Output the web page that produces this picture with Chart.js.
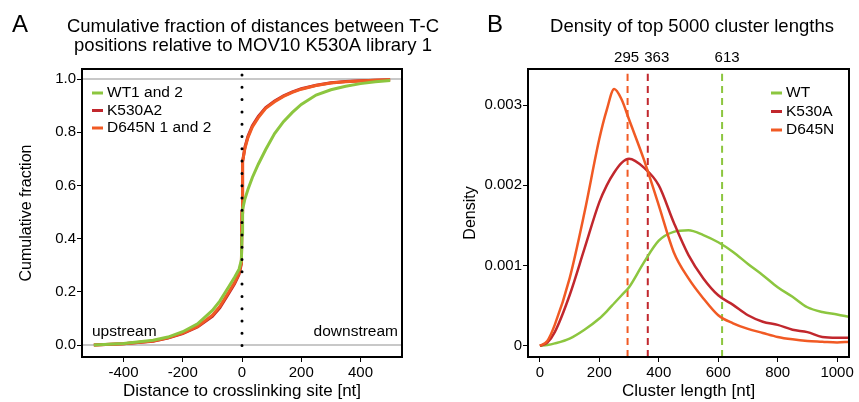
<!DOCTYPE html>
<html>
<head>
<meta charset="utf-8">
<script src="https://cdn.jsdelivr.net/npm/chart.js@4"></script>
<style>
  html, body { margin: 0; padding: 0; background: #fff; }
  #wrap { position: relative; width: 859px; height: 402px; }
  #chartA { position: absolute; left: 0; top: 0; }
  #chartB { position: absolute; left: 445px; top: 0; }
</style>
</head>
<body>
<div id="wrap">
  <canvas id="chartA" width="445" height="402"></canvas>
  <canvas id="chartB" width="414" height="402"></canvas>
</div>
<script>
// Panel A: cumulative fraction of T-C distances
var namesA = ['WT1 and 2', 'K530A2', 'D645N 1 and 2'];
var distX = [-500, -400, -300, -250, -200, -150, -100, -75, -50, -25, -10, -2, 0, 2, 10, 20, 35, 55, 80, 110, 140, 170, 200, 250, 300, 350, 400, 450, 500];
var wtCum = [0, .006, .018, .03, .05, .08, .13, .165, .21, .255, .285, .32, .42, .51, .55, .585, .63, .68, .735, .795, .84, .875, .905, .94, .96, .973, .983, .99, .995];
var k530Cum = [0, .005, .014, .026, .043, .068, .108, .14, .185, .23, .265, .305, .50, .69, .745, .785, .825, .86, .893, .918, .937, .952, .964, .977, .986, .991, .994, .996, .998];
var d645Cum = [0, .005, .015, .027, .045, .07, .112, .145, .19, .235, .27, .31, .50, .69, .74, .78, .82, .855, .89, .915, .935, .95, .962, .976, .985, .99, .993, .996, .998];
var xTicksA = [-400, -200, 0, 200, 400];
var yTicksA = [0, 0.2, 0.4, 0.6, 0.8, 1.0];
var refLinesA = [0, 1];
var siteX = 0;

// Panel B: density of cluster lengths
var namesB = ['WT', 'K530A', 'D645N'];
var lenX = [0, 25, 50, 100, 150, 200, 225, 250, 275, 300, 350, 400, 450, 500, 550, 600, 650, 700, 750, 800, 850, 900, 950, 1000, 1040];
var wtDens = [0, 0.00001, 0.00003, 0.00009, 0.0002, 0.00034, 0.00043, 0.00053, 0.00063, 0.00073, 0.00104, 0.00131, 0.00142, 0.00144, 0.00138, 0.00129, 0.00117, 0.00102, 0.00088, 0.00073, 0.00061, 0.00048, 0.00042, 0.00039, 0.00036];
var k530Dens = [0, 0.00004, 0.00017, 0.00063, 0.00121, 0.00179, 0.002, 0.00216, 0.00228, 0.00233, 0.00222, 0.002, 0.00154, 0.00113, 0.00084, 0.00063, 0.00051, 0.00038, 0.0003, 0.00026, 0.0002, 0.00017, 0.00011, 0.0001, 0.0001];
var d645Dens = [0, 0.00006, 0.00026, 0.00084, 0.00166, 0.00258, 0.00294, 0.0032, 0.00307, 0.00282, 0.00232, 0.00175, 0.00117, 0.00084, 0.00059, 0.00038, 0.00028, 0.00021, 0.00016, 0.00011, 0.00008, 0.00006, 0.00005, 0.00004, 0.00005];
var medians = [613, 363, 295];   // WT, K530A, D645N
var xTicksB = [0, 200, 400, 600, 800, 1000];
var yTicksB = [0, 0.001, 0.002, 0.003];

var green = '#8cc63f', red = '#c1272d', orange = '#f15a24';
var FONT = '"Liberation Sans", Arial, sans-serif';
Chart.defaults.font.family = FONT;
Chart.defaults.color = '#000';

// nudge median labels sideways so they don't collide
var medianLabelShift = [5, 9, -1];

function pts(xs, ys) {
  return xs.map(function (x, i) { return { x: x, y: ys[i] }; });
}

function setTicks(list) {
  return function (s) { s.ticks = list.map(function (v) { return { value: v }; }); };
}

function axis(opts) {
  return Object.assign({
    type: 'linear',
    grid: { drawOnChartArea: false, tickLength: 5, color: '#000', lineWidth: 1 },
    border: { display: false },
    ticks: { font: { size: 15 }, color: '#000', padding: 2, maxRotation: 0 }
  }, opts);
}

function text(ctx, str, x, y, size, align) {
  ctx.font = size + 'px ' + FONT;
  ctx.fillStyle = '#000';
  ctx.textAlign = align || 'center';
  ctx.textBaseline = 'middle';
  ctx.fillText(str, x, y);
}

function legend(ctx, names, colors, x, y0, dy) {
  names.forEach(function (n, i) {
    var y = y0 + i * dy;
    ctx.strokeStyle = colors[i];
    ctx.lineWidth = 3;
    ctx.setLineDash([]);
    ctx.beginPath();
    ctx.moveTo(x, y);
    ctx.lineTo(x + 11, y);
    ctx.stroke();
    text(ctx, n, x + 15, y, 15.5, 'left');
  });
}

function frame(chart) {
  var a = chart.chartArea, ctx = chart.ctx;
  ctx.save();
  ctx.strokeStyle = '#000';
  ctx.lineWidth = 2;
  ctx.setLineDash([]);
  ctx.strokeRect(a.left, a.top, a.right - a.left, a.bottom - a.top);
  ctx.restore();
}

var decorA = {
  id: 'decorA',
  beforeDatasetsDraw: function (chart) {
    var a = chart.chartArea, ctx = chart.ctx, ys = chart.scales.y;
    ctx.save();
    ctx.strokeStyle = '#c8c8c8';
    ctx.lineWidth = 2;
    refLinesA.forEach(function (v) {
      var py = ys.getPixelForValue(v);
      ctx.beginPath();
      ctx.moveTo(a.left, py);
      ctx.lineTo(a.right, py);
      ctx.stroke();
    });
    ctx.restore();
  },
  afterDatasetsDraw: function (chart) {
    var a = chart.chartArea, ctx = chart.ctx;
    var px = chart.scales.x.getPixelForValue(siteX);
    ctx.save();
    ctx.strokeStyle = '#000';
    ctx.lineWidth = 3;
    ctx.lineCap = 'round';
    ctx.setLineDash([0, 12.3]);
    ctx.beginPath();
    ctx.moveTo(px, a.top + 6);
    ctx.lineTo(px, a.bottom);
    ctx.stroke();
    ctx.restore();
  },
  afterDraw: function (chart) {
    var a = chart.chartArea, ctx = chart.ctx;
    frame(chart);
    ctx.save();
    text(ctx, 'A', 12, 25, 24, 'left');
    text(ctx, 'Cumulative fraction of distances between T-C', 253, 27, 18.5);
    text(ctx, 'positions relative to MOV10 K530A library 1', 253, 46, 18.5);
    text(ctx, 'upstream', a.left + 10, 332, 15.5, 'left');
    text(ctx, 'downstream', a.right - 4, 332, 15.5, 'right');
    legend(ctx, namesA, [green, red, orange], a.left + 10, 93, 17.5);
    ctx.restore();
  }
};

var decorB = {
  id: 'decorB',
  afterDraw: function (chart) {
    var a = chart.chartArea, ctx = chart.ctx, xs = chart.scales.x;
    frame(chart);
    ctx.save();
    text(ctx, 'B', 42, 25, 24, 'left');
    text(ctx, 'Density of top 5000 cluster lengths', 247, 27, 18.5);
    medians.forEach(function (m, i) {
      text(ctx, String(m), xs.getPixelForValue(m) + medianLabelShift[i], 58, 15);
    });
    legend(ctx, namesB, [green, red, orange], a.right - 78, 93, 18.5);
    ctx.restore();
  }
};

new Chart(document.getElementById('chartA'), {
  type: 'line',
  data: {
    datasets: [
      { label: namesA[0], data: pts(distX, wtCum), borderColor: green },
      { label: namesA[2], data: pts(distX, d645Cum), borderColor: orange },
      { label: namesA[1], data: pts(distX, k530Cum), borderColor: red }
    ]
  },
  options: {
    responsive: false,
    animation: false,
    datasets: { line: { borderWidth: 3, pointRadius: 0, tension: 0, fill: false } },
    layout: { padding: { left: 0, right: 43, top: 69, bottom: 0 } },
    plugins: { legend: { display: false }, tooltip: { enabled: false } },
    scales: {
      x: axis({
        min: -540, max: 540,
        afterBuildTicks: setTicks(xTicksA),
        afterFit: function (s) { s.height = 45; },
        ticks: { font: { size: 15 }, color: '#000', padding: 2, maxRotation: 0, callback: function (v) { return String(v); } },
        title: { display: true, text: 'Distance to crosslinking site [nt]', font: { size: 17 }, padding: 0, color: '#000' }
      }),
      y: axis({
        min: -0.045, max: 1.038,
        afterBuildTicks: setTicks(yTicksA),
        afterFit: function (s) { s.width = 82; },
        ticks: { font: { size: 15 }, color: '#000', padding: 1, callback: function (v) { return v.toFixed(1); } },
        title: { display: true, text: 'Cumulative fraction', font: { size: 16 }, padding: { top: 17, bottom: 0 }, color: '#000' }
      })
    }
  },
  plugins: [decorA]
});

var medianLines = medians.map(function (m, i) {
  return {
    data: [{ x: m, y: -0.00014 }, { x: m, y: 0.00345 }],
    borderColor: [green, red, orange][i],
    borderWidth: 2,
    borderDash: [7, 5],
    tension: 0
  };
});

new Chart(document.getElementById('chartB'), {
  type: 'line',
  data: {
    datasets: [
      { label: namesB[2], data: pts(lenX, d645Dens), borderColor: orange },
      { label: namesB[1], data: pts(lenX, k530Dens), borderColor: red },
      { label: namesB[0], data: pts(lenX, wtDens), borderColor: green }
    ].concat(medianLines)
  },
  options: {
    responsive: false,
    animation: false,
    datasets: { line: { borderWidth: 2.5, pointRadius: 0, cubicInterpolationMode: 'monotone', fill: false } },
    layout: { padding: { left: 0, right: 10, top: 69, bottom: 0 } },
    plugins: { legend: { display: false }, tooltip: { enabled: false } },
    scales: {
      x: axis({
        min: -40, max: 1040,
        afterBuildTicks: setTicks(xTicksB),
        afterFit: function (s) { s.height = 45; },
        ticks: { font: { size: 15 }, color: '#000', padding: 2, maxRotation: 0, callback: function (v) { return String(v); } },
        title: { display: true, text: 'Cluster length [nt]', font: { size: 17 }, padding: 0, color: '#000' }
      }),
      y: axis({
        min: -0.00014, max: 0.00345,
        afterBuildTicks: setTicks(yTicksB),
        afterFit: function (s) { s.width = 83; },
        ticks: { font: { size: 15 }, color: '#000', padding: 1, callback: function (v) { return String(v); } },
        title: { display: true, text: 'Density', font: { size: 16 }, padding: { top: 16, bottom: 0 }, color: '#000' }
      })
    }
  },
  plugins: [decorB]
});
</script>
</body>
</html>
